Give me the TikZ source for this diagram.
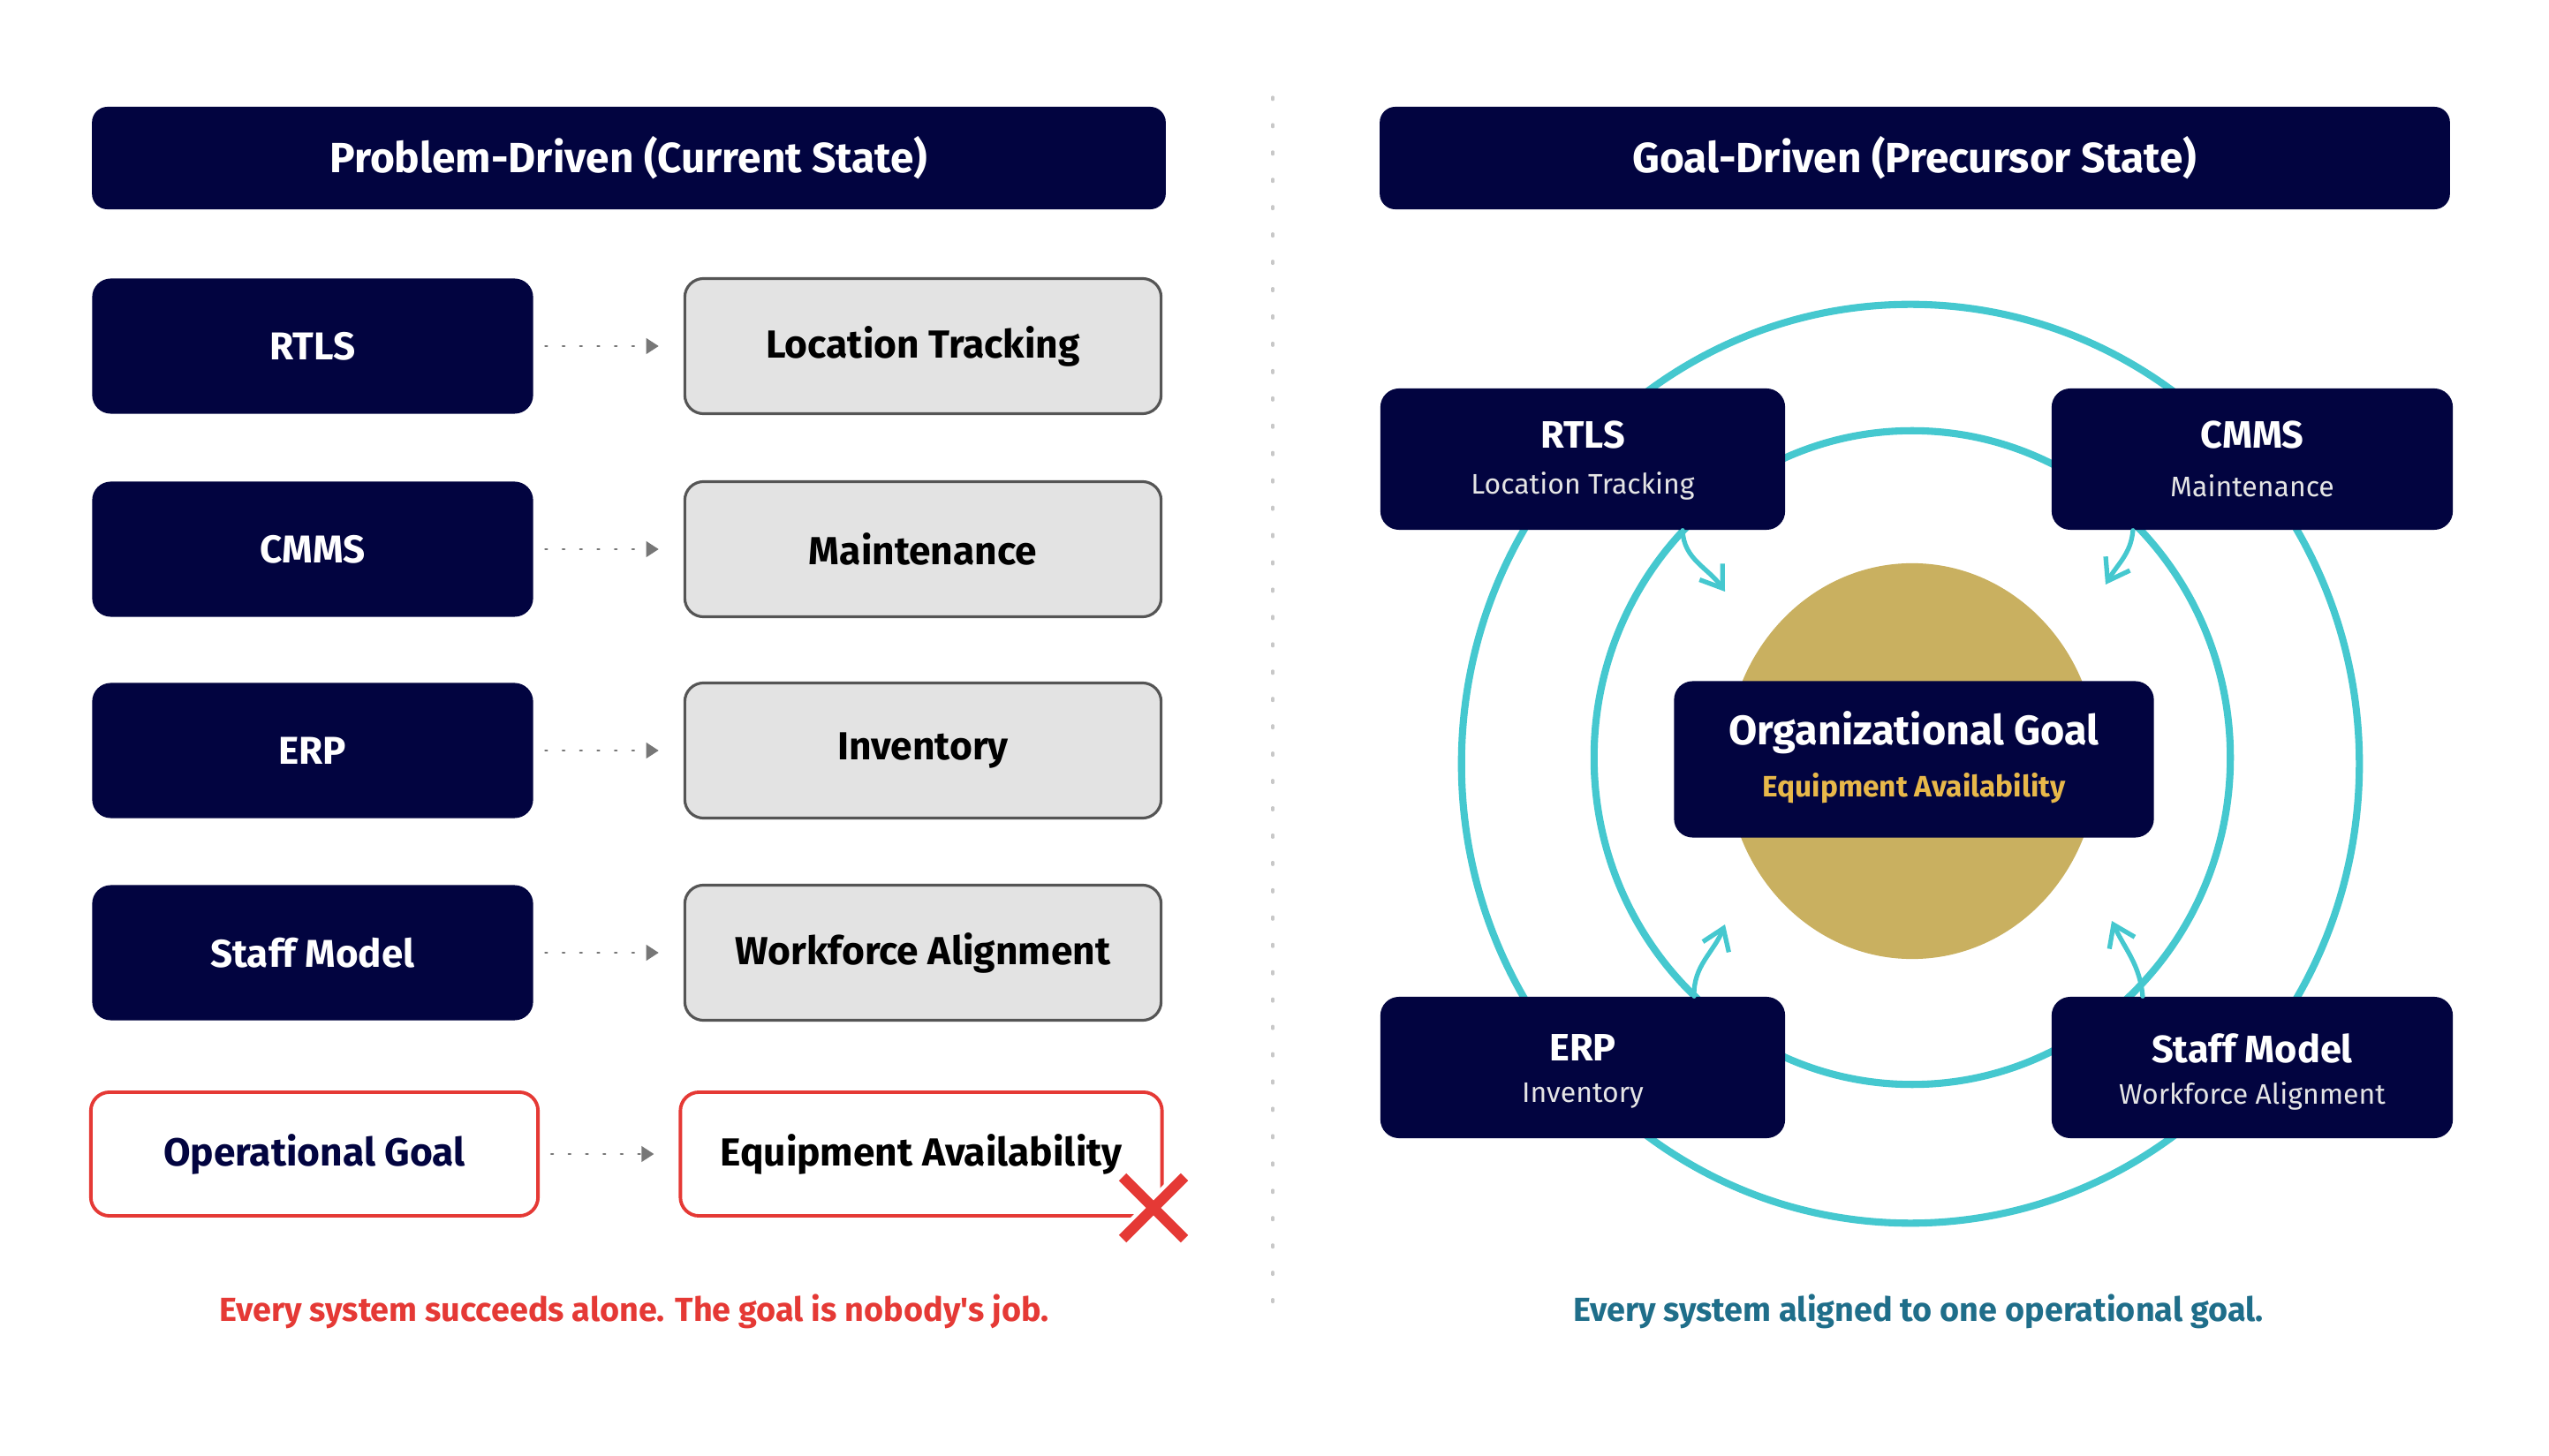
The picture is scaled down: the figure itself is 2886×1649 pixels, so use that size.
\documentclass[tikz,border=0pt]{standalone}
\usepackage{fontspec}
\setmainfont{Fira Sans}
\usetikzlibrary{arrows.meta,calc}
\definecolor{navyc}{HTML}{020440}
\definecolor{grayfill}{HTML}{E3E3E3}
\definecolor{grayline}{HTML}{555555}
\definecolor{redc}{HTML}{E53935}
\definecolor{tealc}{HTML}{45C8CF}
\definecolor{goldc}{HTML}{C9B060}
\definecolor{goldtext}{HTML}{E8B84A}
\definecolor{capteal}{HTML}{1F6E8A}
\definecolor{arrowgray}{HTML}{777777}
\definecolor{divgray}{HTML}{C8C8C8}
\newcommand{\fsz}[1]{\fontsize{#1}{#1}\selectfont}
\tikzset{
  hdr/.style={fill=navyc, rounded corners=5pt, minimum height=1.16cm, text=white, font=\fsz{13.6pt}\bfseries, inner sep=0pt},
  sysbox/.style={fill=navyc, rounded corners=6pt, minimum width=4.99cm, minimum height=1.53cm, text=white, font=\fsz{12.5pt}\bfseries, inner sep=0pt},
  fnbox/.style={fill=grayfill, draw=grayline, line width=0.9pt, rounded corners=6pt, minimum width=5.39cm, minimum height=1.53cm, text=black, font=\fsz{12.6pt}\bfseries, inner sep=0pt},
  redbox/.style={fill=white, draw=redc, line width=1.1pt, rounded corners=6pt, minimum height=1.40cm, text=black, font=\fsz{12.6pt}\bfseries, inner sep=0pt},
  dotarrow/.style={arrowgray, line width=0.7pt, dash pattern=on 0.6pt off 5pt, line cap=round, -{Triangle[length=4pt,width=5pt]}},
  ringbox/.style={fill=navyc, rounded corners=6pt, minimum height=1.60cm, inner sep=0pt},
  ringtitle/.style={text=white, font=\fsz{12.3pt}\bfseries, inner sep=0pt},
  ringsub/.style={text=white!90!black, font=\fsz{9.1pt}, inner sep=0pt},
  ring/.style={draw=tealc, line width=2.3pt},
  tealarrow/.style={draw=tealc, line width=1.5pt, line cap=round, -{Straight Barb[length=6.5pt,width=9pt,line width=1.5pt]}},
  caption/.style={font=\fsz{10.75pt}\bfseries, inner sep=0pt}
}
\begin{document}
\begin{tikzpicture}[x=0.01cm,y=-0.01cm]
\useasboundingbox (0,0) rectangle (2886,1649);
\fill[white] (0,0) rectangle (2886,1649);

% divider
\draw[divgray, line width=0.9pt, dash pattern=on 0.8pt off 8pt, line cap=round] (1441,110) -- (1441,1491);

% ===== Left panel =====
\node[hdr, minimum width=12.15cm] (lhead) at (712,179) {Problem-Driven (Current State)};

\node[sysbox] (s1) at (354,392) {RTLS};
\node[fnbox]  (f1) at (1045,392) {Location Tracking};
\node[sysbox] (s2) at (354,622) {CMMS};
\node[fnbox]  (f2) at (1045,622) {Maintenance};
\node[sysbox] (s3) at (354,850) {ERP};
\node[fnbox]  (f3) at (1045,850) {Inventory};
\node[sysbox] (s4) at (354,1079) {Staff Model};
\node[fnbox]  (f4) at (1045,1079) {Workforce Alignment};
\node[redbox, minimum width=5.06cm] (s5) at (356,1307) {\textcolor{navyc}{Operational Goal}};
\node[redbox, minimum width=5.45cm] (f5) at (1043,1307) {Equipment Availability};

\foreach \i in {1,...,5}{
  \draw[dotarrow, shorten <=0.13cm, shorten >=0.28cm] (s\i) -- (f\i);
}

% red X
\coordinate (xc) at (1306,1368);
\draw[white, line width=6pt] ($(xc)+(-37,-37)$) -- ($(xc)+(37,37)$) ($(xc)+(37,-37)$) -- ($(xc)+(-37,37)$);
\draw[redc, line width=3.4pt] ($(xc)+(-35,-35)$) -- ($(xc)+(35,35)$) ($(xc)+(35,-35)$) -- ($(xc)+(-35,35)$);

\node[caption, text=redc] (lcap) at (718,1485) {Every system succeeds alone. The goal is nobody\textquotesingle s job.};

% ===== Right panel =====
\node[hdr, minimum width=12.11cm] (rhead) at (2168,179) {Goal-Driven (Precursor State)};

\draw[ring] (2163,865) ellipse [x radius=5.08cm, y radius=5.20cm];
\draw[ring] (2165,858) ellipse [x radius=3.60cm, y radius=3.70cm];
\fill[goldc] (2165,862) ellipse [x radius=2.10cm, y radius=2.24cm];

\node[fill=navyc, rounded corners=6pt, minimum width=5.43cm, minimum height=1.77cm, inner sep=0pt] (goal) at (2167,860) {};
\node[text=white, font=\fsz{13.3pt}\bfseries, inner sep=0pt] (goalt) at (2167,830) {Organizational Goal};
\node[text=goldtext, font=\fsz{9.5pt}\bfseries, inner sep=0pt] (goals) at (2167,893) {Equipment Availability};

\node[ringbox, minimum width=4.58cm] (rtls) at (1792,520) {};
\node[ringtitle] (rtlst) at (1792,493) {RTLS};
\node[ringsub] (rtlss) at (1792,550) {Location Tracking};

\node[ringbox, minimum width=4.54cm] (cmms) at (2550,520) {};
\node[ringtitle] (cmmst) at (2550,493) {CMMS};
\node[ringsub] (cmmss) at (2550,550) {Maintenance};

\node[ringbox, minimum width=4.58cm] (erp) at (1792,1209) {};
\node[ringtitle] (erpt) at (1792,1187) {ERP};
\node[ringsub] (erps) at (1792,1241) {Inventory};

\node[ringbox, minimum width=4.54cm] (staff) at (2550,1209) {};
\node[ringtitle] (stafft) at (2550,1187) {Staff Model};
\node[ringsub] (staffs) at (2550,1241) {Workforce Alignment};

% curved arrows toward goal
\coordinate (a1) at (1953,670);
\coordinate (a2) at (2384,662);
\coordinate (a3) at (1953,1047);
\coordinate (a4) at (2391,1043);
\draw[tealarrow] ([xshift=1.13cm]rtls.south) to[out=-88,in=125] (a1);
\draw[tealarrow] ([xshift=-1.35cm]cmms.south) to[out=-95,in=60] (a2);
\draw[tealarrow] ([xshift=1.26cm]erp.north) to[out=92,in=-112] (a3);
\draw[tealarrow] ([xshift=-1.24cm]staff.north) to[out=95,in=-65] (a4);

\node[caption, text=capteal] (rcap) at (2172,1485) {Every system aligned to one operational goal.};
\end{tikzpicture}
\end{document}
